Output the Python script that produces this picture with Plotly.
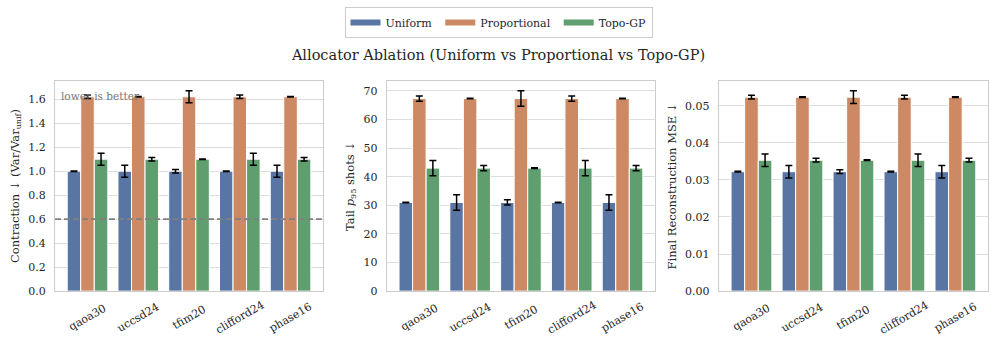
import plotly.graph_objects as go
from plotly.subplots import make_subplots

circuits = ["qaoa30", "uccsd24", "tfim20", "clifford24", "phase16"]
allocators = ["Uniform", "Proportional", "Topo-GP"]
colors = ["#5975A4", "#CC8963", "#5F9E6E"]

# contraction (Var/Var_unif)
contraction = {
    "Uniform": [1.0, 1.0, 1.0, 1.0, 1.0],
    "Proportional": [1.62, 1.62, 1.62, 1.62, 1.62],
    "Topo-GP": [1.10, 1.10, 1.10, 1.10, 1.10],
}
contraction_err = {
    "Uniform": [0.002, 0.05, 0.015, 0.002, 0.05],
    "Proportional": [0.015, 0.002, 0.05, 0.015, 0.002],
    "Topo-GP": [0.05, 0.015, 0.002, 0.05, 0.015],
}

# tail p95 shots
tail_shots = {
    "Uniform": [31.0, 31.0, 31.0, 31.0, 31.0],
    "Proportional": [67.3, 67.3, 67.3, 67.3, 67.3],
    "Topo-GP": [43.0, 43.0, 43.0, 43.0, 43.0],
}
tail_err = {
    "Uniform": [0.1, 2.7, 0.9, 0.1, 2.7],
    "Proportional": [0.9, 0.1, 2.7, 0.9, 0.1],
    "Topo-GP": [2.7, 0.9, 0.1, 2.7, 0.9],
}

# final reconstruction MSE
mse = {
    "Uniform": [0.0322, 0.0322, 0.0322, 0.0322, 0.0322],
    "Proportional": [0.0523, 0.0523, 0.0523, 0.0523, 0.0523],
    "Topo-GP": [0.0353, 0.0353, 0.0353, 0.0353, 0.0353],
}
mse_err = {
    "Uniform": [0.0001, 0.0017, 0.0005, 0.0001, 0.0017],
    "Proportional": [0.0005, 0.0001, 0.0017, 0.0005, 0.0001],
    "Topo-GP": [0.0017, 0.0005, 0.0001, 0.0017, 0.0005],
}

FONT = "DejaVu Serif"
TXT = "#262626"
NBSP = "\u00a0"

fig = make_subplots(rows=1, cols=3)

panels = [(contraction, contraction_err), (tail_shots, tail_err), (mse, mse_err)]
for col, (vals, errs) in enumerate(panels, start=1):
    for name, color in zip(allocators, colors):
        fig.add_trace(
            go.Bar(
                x=circuits,
                y=vals[name],
                name=name,
                marker=dict(color=color, line=dict(color="white", width=1)),
                error_y=dict(type="data", array=errs[name], color="black", thickness=1.5, width=3.5),
                showlegend=False,
            ),
            row=1,
            col=col,
        )

# legend entries drawn as wide patches like matplotlib
for k, (name, color) in enumerate(zip(allocators, colors)):
    pad = NBSP if k < len(allocators) - 1 else ""
    fig.add_trace(
        go.Scatter(x=[None], y=[None], mode="lines", name=name + pad, line=dict(color=color, width=6)),
        row=1,
        col=1,
    )

domains = [[0.0552, 0.324], [0.388, 0.657], [0.721, 0.991]]
y_ranges = [[0, 1.753], [0, 73.5], [0, 0.0567]]
y_titles = [
    "Contraction ↓ (Var/Var<sub>unif</sub>)",
    "Tail <i>p</i><sub>95</sub> shots ↓",
    "Final Reconstruction MSE ↓",
]
y_ticks = [
    dict(tickvals=[0, 0.2, 0.4, 0.6, 0.8, 1.0, 1.2, 1.4, 1.6], tickformat=".1f"),
    dict(tickvals=[0, 10, 20, 30, 40, 50, 60, 70]),
    dict(tickvals=[0, 0.01, 0.02, 0.03, 0.04, 0.05], tickformat=".2f"),
]

for i in range(3):
    xa = "xaxis" if i == 0 else f"xaxis{i + 1}"
    ya = "yaxis" if i == 0 else f"yaxis{i + 1}"
    fig.layout[xa].update(
        domain=domains[i],
        range=[-0.64, 4.64],
        showticklabels=False,
        showgrid=False,
        showline=True,
        mirror=True,
        linecolor="#cccccc",
        linewidth=1.2,
        ticks="",
        automargin=False,
    )
    fig.layout[ya].update(
        domain=[0.161, 0.767],
        range=y_ranges[i],
        showgrid=True,
        gridcolor="#dddddd",
        gridwidth=1,
        zeroline=False,
        showline=True,
        mirror=True,
        linecolor="#cccccc",
        linewidth=1.2,
        ticks="",
        ticklabelstandoff=6,
        automargin=False,
        tickfont=dict(family=FONT, size=11, color=TXT),
        title=dict(text=y_titles[i], font=dict(family=FONT, size=11.5, color=TXT), standoff=6),
        **y_ticks[i],
    )
    # rotated category labels, centred on the tick like matplotlib
    xref = "x" if i == 0 else f"x{i + 1}"
    yref = "y domain" if i == 0 else f"y{i + 1} domain"
    for c in circuits:
        fig.add_annotation(
            x=c,
            xref=xref,
            y=-0.125,
            yref=yref,
            text=c,
            textangle=-30,
            showarrow=False,
            xanchor="center",
            yanchor="middle",
            font=dict(family=FONT, size=11, color=TXT),
        )

# reference line and note on the contraction panel
fig.add_hline(
    y=0.6,
    row=1,
    col=1,
    layer="above",
    line=dict(color="#808080", width=1.6, dash="6px,3px"),
)
fig.add_annotation(
    xref="x domain",
    yref="y domain",
    x=0.015,
    y=0.965,
    text="lower is better",
    showarrow=False,
    xanchor="left",
    yanchor="top",
    font=dict(family=FONT, size=10.5, color="#777777"),
)

fig.update_layout(
    width=997,
    height=347,
    margin=dict(l=0, r=0, t=0, b=0),
    paper_bgcolor="white",
    plot_bgcolor="white",
    barmode="group",
    bargap=0.2,
    bargroupgap=0,
    font=dict(family=FONT, size=11, color=TXT),
    title=dict(
        text="Allocator Ablation (Uniform vs Proportional vs Topo-GP)",
        x=0.5,
        xanchor="center",
        y=1 - 55 / 347,
        yanchor="middle",
        font=dict(family=FONT, size=14.5, color=TXT),
    ),
    legend=dict(
        orientation="h",
        x=0.5,
        xanchor="center",
        y=1 - 7 / 347,
        yanchor="top",
        bordercolor="#cccccc",
        borderwidth=1,
        font=dict(family=FONT, size=11, color=TXT),
        traceorder="normal",
    ),
)

# drop the default page margin so the figure sits at the window origin
fig.write_html(
    "out.html",
    config={"displayModeBar": False},
    post_script="document.body.style.margin='0';",
)
